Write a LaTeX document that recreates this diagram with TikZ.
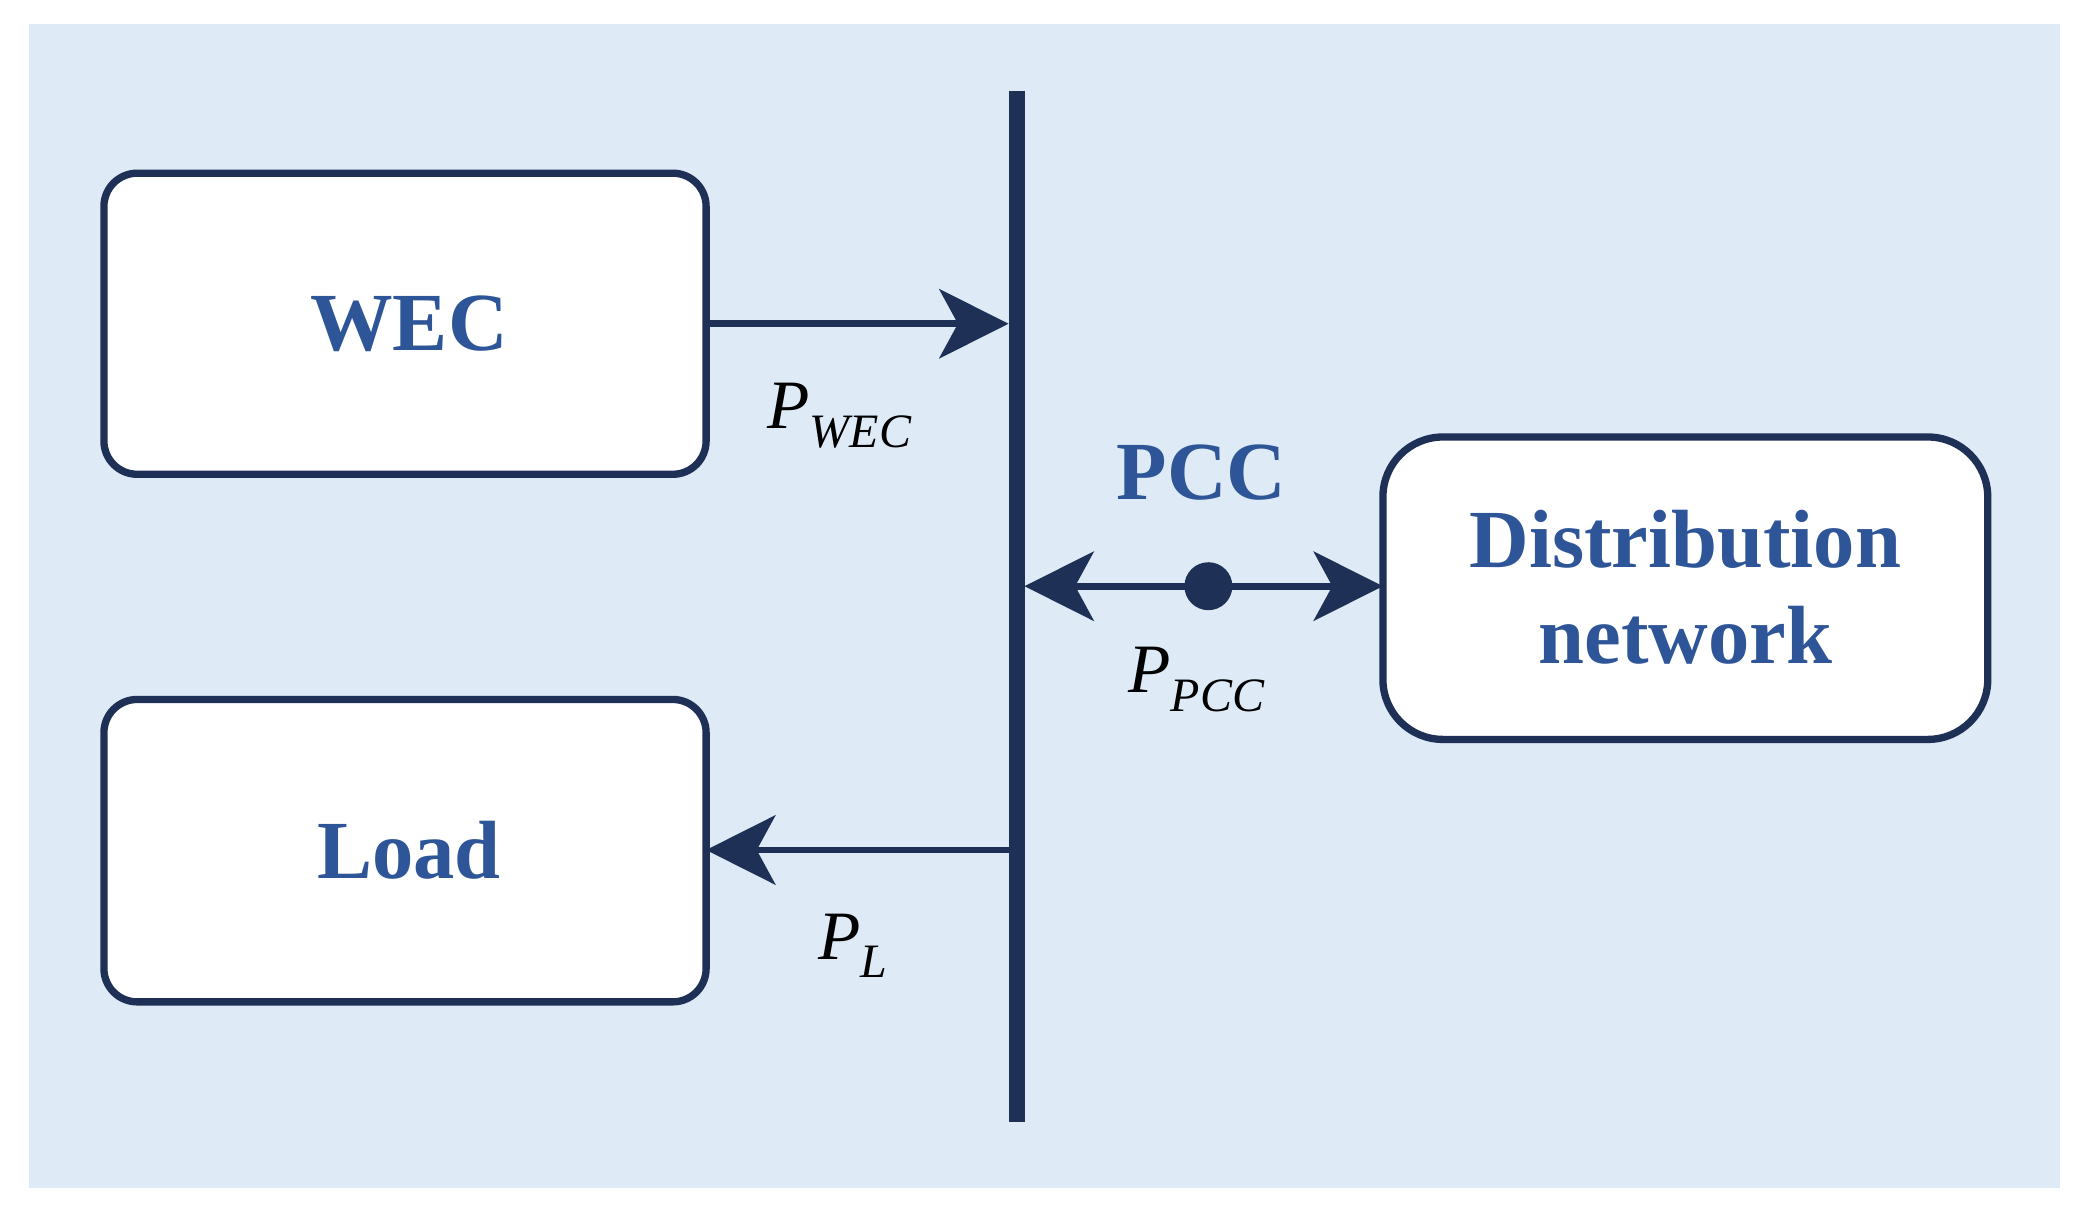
\documentclass[tikz,border=0pt]{standalone}
\usepackage{fontspec}
\setmainfont{Liberation Serif}
\usetikzlibrary{arrows.meta}
\definecolor{bg}{HTML}{DEEAF5}
\definecolor{navy}{HTML}{1F3056}
\definecolor{tb}{HTML}{2E5597}
\newcommand{\pvar}[1]{{\itshape P}\raisebox{-14pt}{\fontsize{36}{40}\selectfont\itshape #1}}
\begin{document}
\begin{tikzpicture}[x=1pt,y=-1pt,
 box/.style={draw=navy,line width=5.5pt,fill=white,rounded corners=25pt},
 lbl/.style={text=tb,font=\fontsize{62}{72}\selectfont\bfseries,align=center},
 ml/.style={font=\fontsize{52}{56}\selectfont},
 arr/.style={draw=navy,line width=5pt,-{Stealth[length=52pt,width=52pt,inset=14pt]}}]
\useasboundingbox (0,0) rectangle (1568,912);
\fill[white] (0,0) rectangle (1568,912);
\fill[bg] (22,18) rectangle (1546,892);
\draw[box] (78,130) rectangle (530,356);
\node[lbl] (wec) at (307,243) {WEC};
\draw[box] (78,525) rectangle (530,752);
\node[lbl] (load) at (307,638) {Load};
\draw[box,rounded corners=45pt] (1038,328) rectangle (1492,555);
\node[lbl] (dn) at (1265,441) {Distribution\\network};
\draw[navy,line width=12pt] (763,68) -- (763,842);
\coordinate (w1) at (532,243); \coordinate (w2) at (757,243);
\draw[arr] (w1) -- (w2);
\coordinate (l1) at (757,638); \coordinate (l2) at (530,638);
\draw[arr] (l1) -- (l2);
\coordinate (p0) at (907,440); \coordinate (p1) at (769,440); \coordinate (p2) at (1038,440);
\draw[arr] (p0) -- (p1);
\draw[arr] (p0) -- (p2);
\fill[navy] (p0) circle (18);
\node[lbl] (pcc) at (902,355) {PCC};
\node[ml] (pw) at (630,312) {\pvar{WEC}};
\node[ml] (pp) at (898,510) {\pvar{PCC}};
\node[ml] (pl) at (640,710) {\pvar{L}};
\end{tikzpicture}
\end{document}
